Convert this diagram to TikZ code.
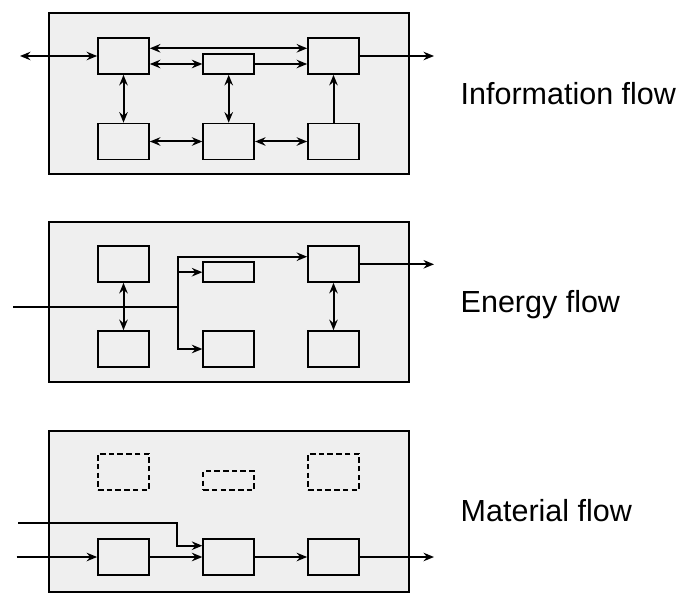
\documentclass[tikz,border=0pt]{standalone}
\usepackage{fontspec}
\setmainfont{Liberation Sans}
\usetikzlibrary{arrows.meta}
\definecolor{panelfill}{HTML}{EFEFEF}
\tikzset{
  panel/.style={draw, line width=1.8pt, fill=panelfill},
  blk/.style={draw, line width=1.7pt, fill=panelfill, minimum width=51pt, minimum height=36pt, inner sep=0pt},
  flatblk/.style={blk, minimum height=20pt},
  dblk/.style={draw, line width=1.7pt, dash pattern=on 5.5pt off 3.2pt, minimum width=51pt, minimum height=36pt, inner sep=0pt},
  conn/.style={line width=2pt},
  arw/.tip={Stealth[length=10.5pt,width=8.5pt,inset=3.5pt]},
  lbl/.style={anchor=base west, font=\fontsize{30.5}{36}\selectfont, inner sep=0pt},
}
\begin{document}
\begin{tikzpicture}[x=1pt,y=-1pt]
\useasboundingbox (0,0) rectangle (700,596);
% ---------- Panel 1: Information flow
\draw[panel] (49,13) rectangle (409,174);
\node[blk] (a1) at (123.5,56) {};
\node[flatblk] (a2) at (228.7,64) {};
\node[blk] (a3) at (333.5,56) {};
\node[blk] (a4) at (123.5,141.5) {};
\node[blk] (a5) at (228.7,141.5) {};
\node[blk] (a6) at (333.5,141.5) {};
\coordinate (ain) at (20,56);
\coordinate (aout) at (434,56);
\draw[conn,{arw}-{arw}] (ain) -- (a1.west);
\draw[conn,-{arw}] (a3.east) -- (aout);
\draw[conn,{arw}-{arw}] (a1.east |- 0,48.3) -- (a3.west |- 0,48.3);
\draw[conn,{arw}-{arw}] (a1.east |- a2.west) -- (a2.west);
\draw[conn,-{arw}] (a2.east) -- (a3.west |- a2.east);
\draw[conn,{arw}-{arw}] (a1.south) -- (a4.north);
\draw[conn,{arw}-{arw}] (a2.south) -- (a5.north);
\draw[conn,-{arw}] (a6.north) -- (a3.south);
\draw[conn,{arw}-{arw}] (a4.east) -- (a5.west);
\draw[conn,{arw}-{arw}] (a5.east) -- (a6.west);
\node[lbl] (l1) at (460.5,104.3) {Information flow};
% ---------- Panel 2: Energy flow
\draw[panel] (49,221.7) rectangle (409,382.3);
\node[blk] (b1) at (123.5,264) {};
\node[flatblk] (b2) at (228.7,272.2) {};
\node[blk] (b3) at (333.5,264) {};
\node[blk] (b4) at (123.5,349) {};
\node[blk] (b5) at (228.7,349) {};
\node[blk] (b6) at (333.5,349) {};
\coordinate (bin) at (13,307.3);
\coordinate (bj) at (177.7,307.3);
\coordinate (bout) at (434,264.3);
\draw[conn] (bin) -- (bj);
\draw[conn,-{arw}] (bj) -- (bj |- 0,256.7) -- (b3.west |- 0,256.7);
\draw[conn,-{arw}] (bj |- b2.west) -- (b2.west);
\draw[conn,-{arw}] (bj) -- (bj |- b5.west) -- (b5.west);
\draw[conn,-{arw}] (b3.east |- bout) -- (bout);
\draw[conn,{arw}-{arw}] (b1.south) -- (b4.north);
\draw[conn,{arw}-{arw}] (b3.south) -- (b6.north);
\node[lbl] (l2) at (460.5,312.7) {Energy flow};
% ---------- Panel 3: Material flow
\draw[panel] (49,430.7) rectangle (409,592);
\node[dblk] (c1) at (123.5,472) {};
\node[dblk, minimum height=19pt] (c2) at (228.7,480.6) {};
\node[dblk] (c3) at (333.5,472) {};
\node[blk] (c4) at (123.5,557) {};
\node[blk] (c5) at (228.7,557) {};
\node[blk] (c6) at (333.5,557) {};
\coordinate (cin1) at (16.7,557);
\coordinate (cin2) at (18.3,523.3);
\coordinate (cbend) at (176.7,523.3);
\coordinate (cout) at (434,557);
\draw[conn,-{arw}] (cin1) -- (c4.west);
\draw[conn,-{arw}] (c4.east) -- (c5.west);
\draw[conn,-{arw}] (c5.east) -- (c6.west);
\draw[conn,-{arw}] (c6.east) -- (cout);
\draw[conn,-{arw}] (cin2) -- (cbend) -- (cbend |- 0,545.7) -- (c5.west |- 0,545.7);
\node[lbl] (l3) at (460.5,521) {Material flow};
\end{tikzpicture}
\end{document}
